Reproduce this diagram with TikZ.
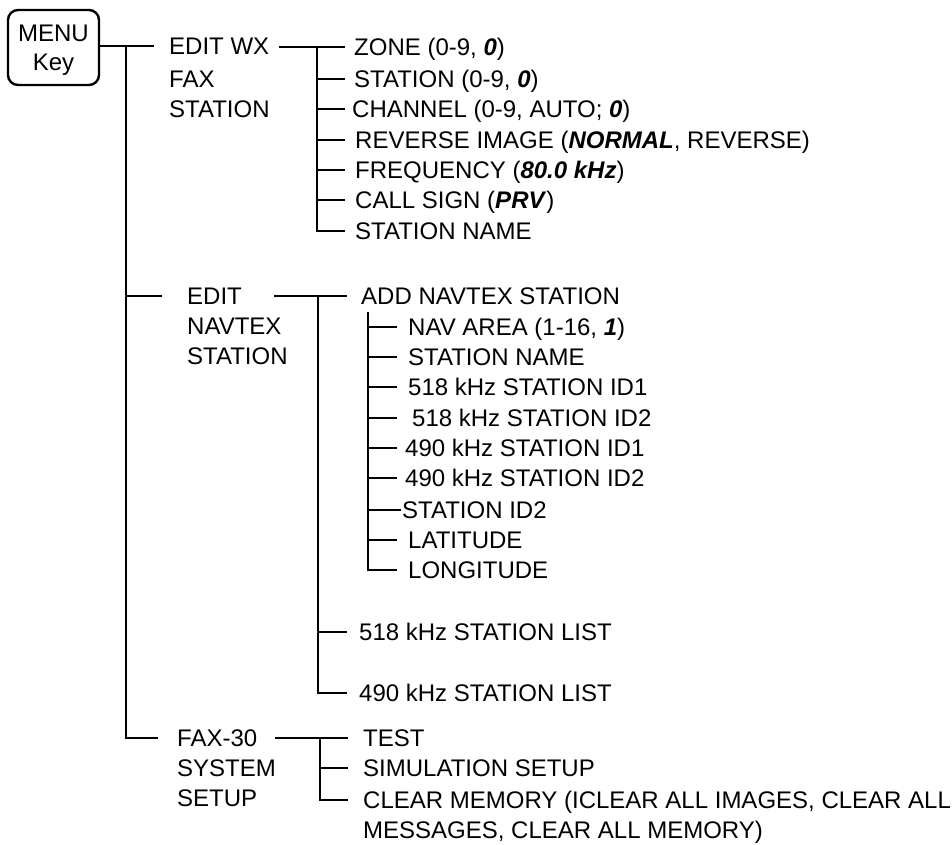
\documentclass[tikz,border=0pt]{standalone}
\usepackage{fontspec}
\setmainfont{Liberation Sans}
\usetikzlibrary{calc}

\begin{document}
\begin{tikzpicture}[
    x=1pt, y=-1pt,
    font=\fontsize{24pt}{29pt}\selectfont,
    line width=2.4pt,
    keybox/.style={
        rectangle, rounded corners=10pt, draw,
        minimum width=91pt, minimum height=75pt,
        inner sep=0pt, align=center, text depth=0pt,
    },
    entry/.style={
        anchor=west, inner sep=0pt,
        text height=17.2pt, text depth=0pt,
    },
]
\useasboundingbox (0, 0) rectangle (952, 845);

% Trunk x-coordinates (one per level of the menu tree)
\def\xa{126}
\def\xb{317}
\def\xc{368}

% =============== MENU key ===============
\node[keybox] (menu) at (53.5, 47.5) {MENU\\Key};

% =============== EDIT WX FAX STATION ===============
\node[entry] (wx)  at (168, 46)  {EDIT WX};
\node[entry] (wxb) at (168, 79)  {FAX};
\node[entry] (wxc) at (168, 109) {STATION};

\node[entry] (zone) at (353, 47)  {ZONE (0-9, \textbf{\textit{0}})};
\node[entry] (stn)  at (353, 79)  {STATION (0-9, \textbf{\textit{0}})};
\node[entry] (chan) at (351, 109) {CHANNEL (0-9, AUTO; \textbf{\textit{0}})};
\node[entry] (rev)  at (354, 140) {REVERSE IMAGE (\textbf{\textit{NORMAL}}, REVERSE)};
\node[entry] (freq) at (354, 170) {FREQUENCY (\textbf{\textit{80.0 kHz}})};
\node[entry] (call) at (354, 200) {CALL SIGN (\textbf{\textit{PRV}})};
\node[entry] (wxname) at (354, 231) {STATION NAME};

% =============== EDIT NAVTEX STATION ===============
\node[entry] (nav)  at (186, 296) {EDIT};
\node[entry] (navb) at (186, 326) {NAVTEX};
\node[entry] (navc) at (186, 356) {STATION};

\node[entry] (add) at (360, 296) {ADD NAVTEX STATION};
\node[entry] (area)  at (407, 327) {NAV AREA (1-16, \textbf{\textit{1}})};
\node[entry] (sname) at (407, 357) {STATION NAME};
\node[entry] (ida)   at (407, 387) {518 kHz STATION ID1};
\node[entry] (idb)   at (411, 418) {518 kHz STATION ID2};
\node[entry] (idc)   at (404, 448) {490 kHz STATION ID1};
\node[entry] (idd)   at (404, 478) {490 kHz STATION ID2};
\node[entry] (ide)   at (401, 510) {STATION ID2};
\node[entry] (lat)   at (407, 540) {LATITUDE};
\node[entry] (lon)   at (407, 570) {LONGITUDE};

\node[entry] (lsta) at (358, 632) {518 kHz STATION LIST};
\node[entry] (lstb) at (358, 693) {490 kHz STATION LIST};

% =============== FAX-30 SYSTEM SETUP ===============
\node[entry] (sys)  at (176, 738) {FAX-30};
\node[entry] (sysb) at (176, 768) {SYSTEM};
\node[entry] (sysc) at (176, 798) {SETUP};

\node[entry] (test) at (362, 738) {TEST};
\node[entry] (sim)  at (362, 768) {SIMULATION SETUP};
\node[entry] (clr)  at (362, 800) {CLEAR MEMORY (ICLEAR ALL IMAGES, CLEAR ALL};
\node[entry] (clrb) at (362, 830) {MESSAGES, CLEAR ALL MEMORY)};

% =============== Tree lines ===============
% main trunk
\coordinate (root) at (\xa, 46);
\draw (menu.east |- wx.west) -- ($(wx.west)+(-14, 0)$);
\draw (root) |- ($(sys.west)+(-18, 0)$);
\draw (root |- nav.west) -- ($(nav.west)+(-24, 0)$);

% EDIT WX branch
\coordinate (wxfork) at (\xb, 47);
\draw ($(wx.east)+(9, 1)$) -- ($(zone.west)+(-8, 0)$);
\draw (wxfork) |- ($(wxname.west)+(-9, 0)$);
\draw (wxfork |- stn.west)  -- ++(28, 0);
\draw (wxfork |- chan.west) -- ++(28, 0);
\draw (wxfork |- rev.west)  -- ++(28, 0);
\draw (wxfork |- freq.west) -- ++(28, 0);
\draw (wxfork |- call.west) -- ++(28, 0);

% EDIT NAVTEX branch
\coordinate (navfork) at (\xb+1, 296);
\draw ($(nav.east)+(31, 0)$) -- ($(add.west)+(-13, 0)$);
\draw (navfork) |- ($(lstb.west)+(-11, 0)$);
\draw (navfork |- lsta.west) -- ++(29, 0);

% ADD NAVTEX STATION sub-items
\coordinate (addfork) at (\xc, 312);
\draw (addfork) |- ($(lon.west)+(-10, 0)$);
\draw (addfork |- area.west)  -- ++(29, 0);
\draw (addfork |- sname.west) -- ++(29, 0);
\draw (addfork |- ida.west)   -- ++(29, 0);
\draw (addfork |- idb.west)   -- ++(29, 0);
\draw (addfork |- idc.west)   -- ++(29, 0);
\draw (addfork |- idd.west)   -- ++(29, 0);
\draw (addfork |- ide.west)   -- ++(33, 0);
\draw (addfork |- lat.west)   -- ++(29, 0);

% FAX-30 branch
\coordinate (sysfork) at (\xb+3, 738);
\draw ($(sys.east)+(17, 0)$) -- ($(test.west)+(-14, 0)$);
\draw (sysfork) |- ($(clr.west)+(-14, 0)$);
\draw (sysfork |- sim.west) -- ++(28, 0);

\end{tikzpicture}
\end{document}
